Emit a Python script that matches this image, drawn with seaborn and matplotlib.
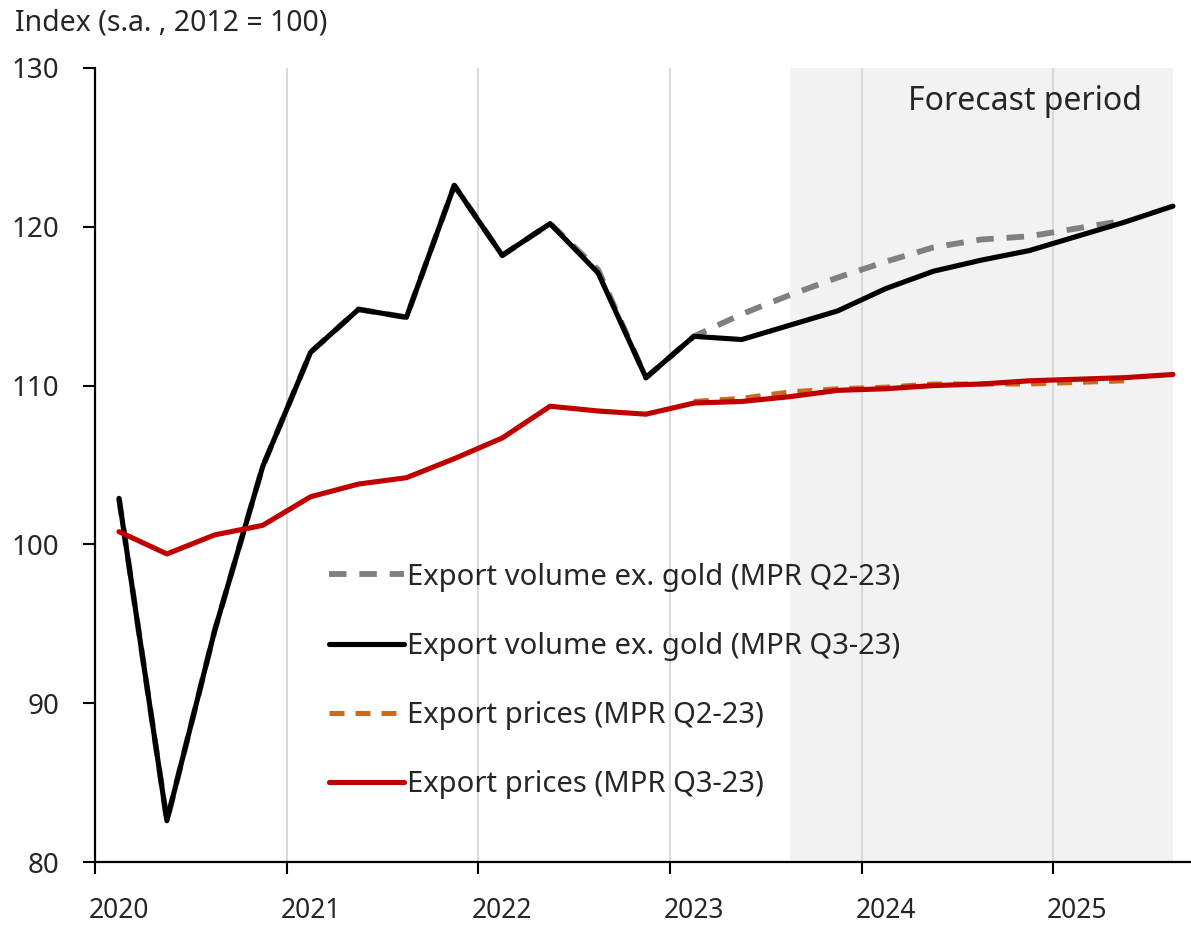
import numpy as np
import pandas as pd
import matplotlib
matplotlib.use("Agg")
import matplotlib.pyplot as plt
import seaborn as sns

# quarterly periods, 2020Q1 .. 2025Q3
quarters = [f"{y}Q{q}" for y in range(2020, 2026) for q in range(1, 5)][:23]

# Export volume ex. gold, MPR Q3-23 (history + forecast)
vol_q3 = [102.9, 82.6, 94.6, 104.9, 112.1, 114.8, 114.3, 122.6,
          118.2, 120.2, 117.1, 110.5, 113.1, 112.9, 113.8, 114.7,
          116.1, 117.2, 117.9, 118.5, 119.4, 120.3, 121.3]
# Export volume ex. gold, MPR Q2-23 (ends 2025Q2)
vol_q2 = [102.9, 82.6, 94.6, 104.9, 112.1, 114.8, 114.3, 122.6,
          118.2, 120.2, 117.3, 110.5, 113.1, 114.5, 115.7, 116.8,
          117.8, 118.7, 119.2, 119.4, 119.9, 120.4]
# Export prices, MPR Q3-23
prc_q3 = [100.8, 99.4, 100.6, 101.2, 103.0, 103.8, 104.2, 105.4,
          106.7, 108.7, 108.4, 108.2, 108.9, 109.0, 109.3, 109.7,
          109.8, 110.0, 110.1, 110.3, 110.4, 110.5, 110.7]
# Export prices, MPR Q2-23 (forecast part, from 2023Q1 to 2025Q2)
prc_q2 = [109.0, 109.2, 109.6, 109.8, 109.9, 110.1, 110.1, 110.1, 110.2, 110.3]

years = [2020, 2021, 2022, 2023, 2024, 2025]
forecast_start = "2023Q3"
forecast_end = "2025Q3"


def qpos(label):
    # place each quarter at the middle of its span on a year scale
    return int(label[:4]) + (int(label[-1]) - 0.5) / 4


def make_df(vals, start_idx, name):
    q = quarters[start_idx:start_idx + len(vals)]
    return pd.DataFrame({"x": [qpos(s) for s in q], "value": vals, "series": name})


lab_vq2 = "Export volume ex. gold (MPR Q2-23)"
lab_vq3 = "Export volume ex. gold (MPR Q3-23)"
lab_pq2 = "Export prices (MPR Q2-23)"
lab_pq3 = "Export prices (MPR Q3-23)"

df_vq2 = make_df(vol_q2, 0, lab_vq2)
df_vq3 = make_df(vol_q3, 0, lab_vq3)
df_pq2 = make_df(prc_q2, quarters.index("2023Q1"), lab_pq2)
df_pq3 = make_df(prc_q3, 0, lab_pq3)

sns.set_style("white")
plt.rcParams["font.family"] = ["Noto Sans", "DejaVu Sans"]

fig = plt.figure(figsize=(11.91, 9.26), dpi=100)
ax = fig.add_axes([0.0798, 0.0691, 0.9195, 0.8575])

# forecast shading and vertical gridlines
ax.axvspan(qpos(forecast_start), qpos(forecast_end), color="#f2f2f2", lw=0, zorder=0.5)
for y in years[1:]:
    ax.axvline(y, color="#d9d9d9", lw=1.5, zorder=0.8)

sns.lineplot(data=df_vq2, x="x", y="value", ax=ax, color="#808080", lw=4.2,
             label=lab_vq2, zorder=2)
ax.lines[-1].set_dashes([3, 2.2])
sns.lineplot(data=df_vq3, x="x", y="value", ax=ax, color="black", lw=3.7,
             label=lab_vq3, zorder=3)
sns.lineplot(data=df_pq2, x="x", y="value", ax=ax, color="#cc6a1e", lw=3.6,
             label=lab_pq2, zorder=2)
ax.lines[-1].set_dashes([3, 2.2])
sns.lineplot(data=df_pq3, x="x", y="value", ax=ax, color="#c00000", lw=3.7,
             label=lab_pq3, zorder=3)

ax.set_xlim(2020, 2025.715)
ax.set_ylim(80, 130)
ax.set_yticks(range(80, 131, 10))
ax.set_xticks(years)
ax.set_xticklabels([])
ax.set_xticks([y + 0.125 for y in years], minor=True)
ax.set_xticklabels([str(y) for y in years], minor=True, fontsize=19)
ax.tick_params(axis="x", which="major", direction="out", length=8.5, width=1.5,
               color="black", bottom=True)
ax.tick_params(axis="x", which="minor", length=0, pad=25)
ax.tick_params(axis="y", direction="out", length=8.5, width=1.5, color="black",
               left=True, labelsize=20, pad=17)
ax.set_xlabel("")
ax.set_ylabel("")

for s in ["top", "right"]:
    ax.spines[s].set_visible(False)
for s in ["left", "bottom"]:
    ax.spines[s].set_color("black")
    ax.spines[s].set_linewidth(1.6)

ax.text(0.956, 0.958, "Forecast period", transform=ax.transAxes, ha="right",
        va="center", fontsize=23)
fig.text(15 / 1191, 1 - 23 / 926, "Index (s.a. , 2012 = 100)", ha="left",
         va="center", fontsize=20.5)

leg = ax.legend(loc="upper left", bbox_to_anchor=(0.19, 0.41), frameon=False,
                fontsize=21, handlelength=2.55, handletextpad=0.12,
                labelspacing=1.38)

fig.savefig("out.png", dpi=100)
